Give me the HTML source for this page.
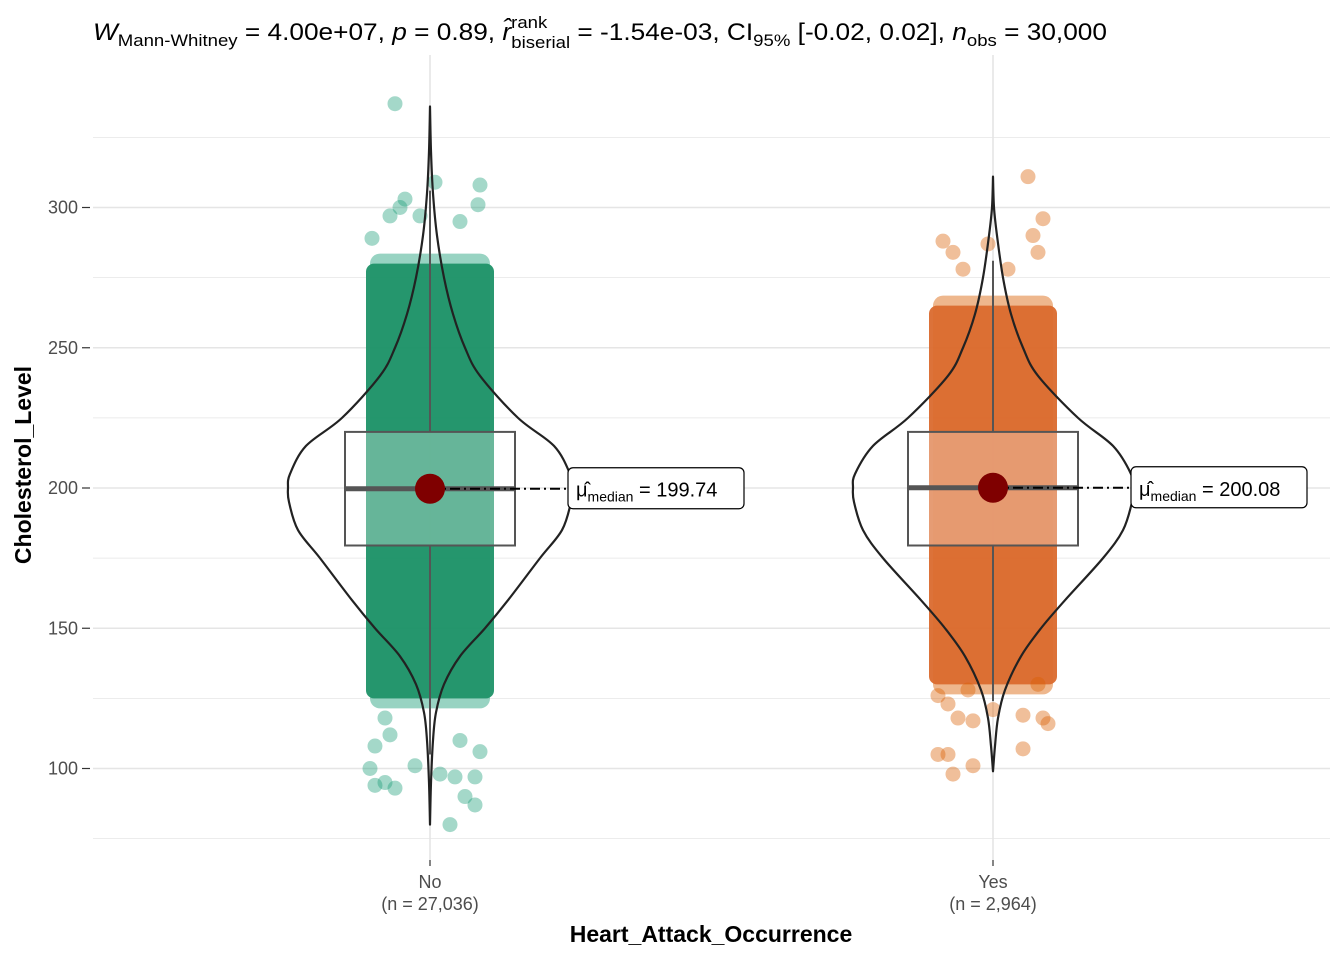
<!DOCTYPE html>
<html><head><meta charset="utf-8"><style>
body{margin:0;background:#fff;font-family:"Liberation Sans",sans-serif}
svg text{font-family:"Liberation Sans",sans-serif}
</style></head><body>
<svg id="c" width="1344" height="960" xmlns="http://www.w3.org/2000/svg">
<g id="grid"></g><g id="marks"></g><g id="axes"></g>
<text x="93" y="40" font-size="24" fill="#000" textLength="1014" lengthAdjust="spacingAndGlyphs"><tspan font-style="italic">W</tspan><tspan font-size="17" dy="6">Mann-Whitney</tspan><tspan dy="-6"> = 4.00e+07, </tspan><tspan font-style="italic">p</tspan><tspan> = 0.89, </tspan><tspan font-style="italic">r̂</tspan><tspan font-size="17" dy="-12">rank</tspan><tspan font-size="17" dx="-33" dy="20">biserial</tspan><tspan dy="-8"> = -1.54e-03, CI</tspan><tspan font-size="17" dy="6">95%</tspan><tspan dy="-6"> [-0.02, 0.02], </tspan><tspan font-style="italic">n</tspan><tspan font-size="17" dy="6">obs</tspan><tspan dy="-6"> = 30,000</tspan></text>
<text transform="translate(31,465) rotate(-90)" text-anchor="middle" font-size="23" font-weight="bold">Cholesterol_Level</text>
<text x="711" y="942" text-anchor="middle" font-size="23" font-weight="bold">Heart_Attack_Occurrence</text>
</svg>
<script>
const categories=["No","Yes"];
const counts=["(n = 27,036)","(n = 2,964)"];
const colors=["#1b9e77","#d95f02"];
const bandColors=["#1f9268","#da6a2e"];
const q1=[179.5,179.5];
const q3=[220,220];
const medians=[199.74,200.08];
const whiskLo=[80,99];
const whiskHi=[336,311];
const bandLo=[125,130];
const bandHi=[280,265];
const violinVals=[[80,95,110,120,130,140,150,160,175,185,195,200,205,215,225,240,250,262,275,290,305,320,336],[99,108,118,128,140,150,160,175,185,195,200,205,215,225,240,250,262,275,290,300,311]];
const violinW=[[0,1,3,6,14,30,55,78,110,132,141,142,140,124,88,50,35,23,14,7,3,1,0],[0,2,5,12,28,48,72,110,130,139,140,138,120,85,45,30,18,10,4,1,0]];
const outNo=[[-35,337],[-25,303],[-30,300],[5,309],[50,308],[48,301],[-40,297],[-10,297],[30,295],[-58,289],[-45,118],[-55,108],[-60,100],[-55,94],[-45,95],[-35,93],[-15,101],[10,98],[25,97],[35,90],[45,97],[50,106],[45,87],[20,80],[-40,112],[30,110]];
const outYes=[[35,311],[50,296],[-50,288],[-40,284],[-5,287],[40,290],[45,284],[-30,278],[15,278],[-55,126],[-45,123],[-35,118],[-20,117],[0,121],[30,119],[55,116],[50,118],[-55,105],[-45,105],[-40,98],[-20,101],[30,107],[45,130],[-25,128]];
const yTicks=[100,150,200,250,300];
const NS="http://www.w3.org/2000/svg";
const yS=v=>488-(v-200)*140.25/50;
const xS=i=>430+i*563;
function mk(tag,a,p){const e=document.createElementNS(NS,tag);for(const k in a)e.setAttribute(k,a[k]);p.appendChild(e);return e;}
function smooth(pts){let d='M'+pts[0][0]+','+pts[0][1];for(let i=0;i<pts.length-1;i++){const p0=pts[Math.max(0,i-1)],p1=pts[i],p2=pts[i+1],p3=pts[Math.min(pts.length-1,i+2)];
d+='C'+(p1[0]+(p2[0]-p0[0])/6)+','+(p1[1]+(p2[1]-p0[1])/6)+' '+(p2[0]-(p3[0]-p1[0])/6)+','+(p2[1]-(p3[1]-p1[1])/6)+' '+p2[0]+','+p2[1];}return d;}
const grid=document.getElementById('grid'),marks=document.getElementById('marks'),axes=document.getElementById('axes');
for(let v=75;v<=325;v+=25){const l=mk('line',{x1:93,x2:1330,y1:yS(v),y2:yS(v),stroke:'#e5e5e5','stroke-width':v%50==0?1.6:0.8},grid);

}
categories.forEach((c,i)=>{const l=mk('line',{x1:xS(i),x2:xS(i),y1:55,y2:860,stroke:'#e5e5e5','stroke-width':1.6},grid);

});
yTicks.forEach(v=>{const t=mk('text',{x:78,y:yS(v)+6,'text-anchor':'end','font-size':18,fill:'#4d4d4d'},axes);t.textContent=v;


mk('line',{x1:82,x2:90,y1:yS(v),y2:yS(v),stroke:'#333','stroke-width':1.2},axes);});
categories.forEach((c,i)=>{const x=xS(i);
mk('line',{x1:x,x2:x,y1:860,y2:866,stroke:'#333','stroke-width':1.2},axes);
const t=mk('text',{x:x,y:888,'text-anchor':'middle','font-size':18,fill:'#4d4d4d'},axes);t.textContent=c;


const n=mk('text',{x:x,y:910,'text-anchor':'middle','font-size':18,fill:'#4d4d4d'},axes);n.textContent=counts[i];


const g=mk('g',{},marks);


const h=yS(bandLo[i])-yS(bandHi[i]);
mk('rect',{x:x-60,y:yS(bandHi[i])-10,width:120,height:h+20,fill:colors[i],opacity:0.45,rx:10},g);
mk('rect',{x:x-64,y:yS(bandHi[i]),width:128,height:h,fill:bandColors[i],opacity:0.95,rx:8},g);
(i==0?outNo:outYes).forEach(p=>{mk('circle',{cx:x+p[0],cy:yS(p[1]),r:7.5,fill:colors[i],opacity:0.4},g);});
const b=mk('rect',{x:x-85,y:yS(q3[i]),width:170,height:yS(q1[i])-yS(q3[i]),fill:'#fff','fill-opacity':0.3,stroke:'#555','stroke-width':2},marks);


mk('line',{x1:x,x2:x,y1:yS(whiskHi[i]-30),y2:yS(q3[i]),stroke:'#555','stroke-width':2},marks);
mk('line',{x1:x,x2:x,y1:yS(q1[i]),y2:yS(whiskLo[i]+25),stroke:'#555','stroke-width':2},marks);
mk('line',{x1:x-85,x2:x+85,y1:yS(medians[i]),y2:yS(medians[i]),stroke:'#555','stroke-width':5},marks);
const vv=violinVals[i],vw=violinW[i];
const L=vv.map((v,k)=>[x-vw[k],yS(v)]);
const R=vv.map((v,k)=>[x+vw[k],yS(v)]).reverse();
const vp=mk('path',{d:smooth(L)+smooth(R).replace(/^M[^C]*/,'')+'Z',fill:'none',stroke:'#222','stroke-width':2.2,'stroke-linejoin':'round'},marks);


mk('line',{x1:x,x2:x+138,y1:yS(medians[i]),y2:yS(medians[i]),stroke:'#000','stroke-width':2,'stroke-dasharray':'10,4,2,4'},marks);
const dot=mk('circle',{cx:x,cy:yS(medians[i]),r:15,fill:'#7f0000'},marks);


const lb=mk('rect',{x:x+138,y:yS(medians[i])-21,width:176,height:41,rx:5,fill:'#fff',stroke:'#000','stroke-width':1.2},marks);


const lt=mk('text',{x:x+146,y:yS(medians[i])+8,'font-size':20},marks);
lt.innerHTML='μ̂<tspan font-size="14" dy="5">median</tspan><tspan dy="-5"> = '+medians[i].toFixed(2)+'</tspan>';


});
</script>
</body></html>
